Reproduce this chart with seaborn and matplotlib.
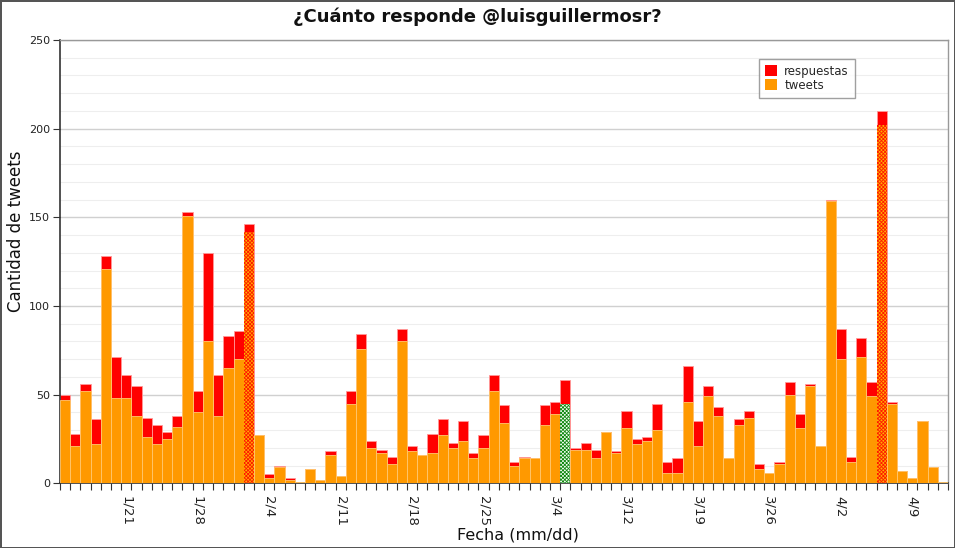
import matplotlib
matplotlib.use("Agg")
import matplotlib.pyplot as plt
import seaborn as sns
import pandas as pd
import numpy as np
from matplotlib.patches import Patch

# ---------------- data ----------------
fechas = (
    ["1/15", "1/16", "1/17", "1/18", "1/19", "1/20", "1/21", "1/22", "1/23", "1/24",
     "1/25", "1/26", "1/27", "1/28", "1/29", "1/30", "1/31",
     "2/1", "2/2", "2/3", "2/4", "2/5", "2/6", "2/7", "2/8", "2/9", "2/10",
     "2/11", "2/12", "2/13", "2/14", "2/15", "2/16", "2/17", "2/18", "2/19", "2/20",
     "2/21", "2/22", "2/23", "2/24", "2/25", "2/26", "2/27", "2/28",
     "3/1", "3/2", "3/3", "3/4", "3/5", "3/7", "3/8", "3/9", "3/10", "3/11",
     "3/12", "3/13", "3/14", "3/15", "3/16", "3/17", "3/18", "3/19", "3/20", "3/21",
     "3/22", "3/23", "3/24", "3/25", "3/26", "3/27", "3/28", "3/29", "3/30", "3/31",
     "4/1", "4/2", "4/3", "4/4", "4/5", "4/6", "4/7", "4/8", "4/9", "4/10",
     "4/11", "4/12"]
)
tweets = [47, 21, 52, 22, 121, 48, 48, 38, 26, 22,
          25, 32, 151, 40, 80, 38, 65, 70, 142, 27,
          3, 9, 2, 1, 8, 2, 16, 4, 45, 76,
          20, 17, 11, 80, 18, 16, 17, 27, 20, 24,
          14, 20, 52, 34, 10, 14, 14, 33, 39, 45,
          19, 19, 14, 29, 17, 31, 22, 24, 30, 6,
          6, 46, 21, 49, 38, 14, 33, 37, 8, 6,
          11, 50, 31, 55, 21, 159, 70, 12, 71, 49,
          202, 45, 7, 3, 35, 9, 1]
respuestas = [3, 7, 4, 14, 7, 23, 13, 17, 11, 11,
              4, 6, 2, 12, 50, 23, 18, 16, 4, 0,
              2, 1, 1, 0, 0, 0, 2, 0, 7, 8,
              4, 2, 4, 7, 3, 0, 11, 9, 3, 11,
              3, 7, 9, 10, 2, 1, 0, 11, 7, 13,
              1, 4, 5, 0, 1, 10, 3, 2, 15, 6,
              8, 20, 14, 6, 5, 0, 3, 4, 3, 0,
              1, 7, 8, 1, 0, 1, 17, 3, 11, 8,
              8, 1, 0, 0, 0, 0, 0]
tick_labels = ["1/21", "1/28", "2/4", "2/11", "2/18", "2/25", "3/4",
               "3/12", "3/19", "3/26", "4/2", "4/9"]
destacados_rojo = ["2/2", "4/6"]
destacados_verde = ["3/5"]

# ---------------- style ----------------
sns.set_theme(style="white")
plt.rcParams["font.family"] = ["DejaVu Sans"]
plt.rcParams["hatch.linewidth"] = 0.6

C_TW = "#ff9900"
C_RE = "#ff0000"

df = pd.DataFrame({"fecha": fechas, "tweets": tweets, "respuestas": respuestas})
df["total"] = df["tweets"] + df["respuestas"]

fig = plt.figure(figsize=(9.55, 5.48), dpi=100, facecolor="white",
                 edgecolor="#555555", linewidth=2)
ax = fig.add_axes([60 / 955, 1 - 483.3 / 548, 888 / 955, 443.3 / 548])

sns.barplot(data=df, x="fecha", y="total", color=C_RE, saturation=1, width=1,
            edgecolor="#ff9999", linewidth=0.6, ax=ax, zorder=2)
sns.barplot(data=df, x="fecha", y="tweets", color=C_TW, saturation=1, width=1,
            edgecolor="#ffc870", linewidth=0.6, ax=ax, zorder=3)

n = len(fechas)
orange_patches = ax.patches[n:2 * n]
for i, f in enumerate(fechas):
    p = orange_patches[i]
    if f in destacados_rojo:
        p.set_facecolor("#ffb000")
        p.set_hatch("xxxxxxxxx")
        p.set_edgecolor("#ff1a00")
        p.set_linewidth(0)
    elif f in destacados_verde:
        p.set_facecolor("#f4fff4")
        p.set_hatch("xxxxxxxxx")
        p.set_edgecolor("#118811")
        p.set_linewidth(0)

ax.set_xlim(-0.5, n - 0.5)
ax.set_ylim(0, 250)

# grid
ax.set_yticks(np.arange(0, 251, 50))
ax.set_yticks(np.arange(0, 251, 10), minor=True)
ax.grid(axis="y", which="major", color="#d0d0d0", linewidth=1, zorder=0)
ax.grid(axis="y", which="minor", color="#eeeeee", linewidth=0.8, zorder=0)
ax.grid(axis="x", visible=False)
ax.set_axisbelow(True)

# x ticks
pos = [fechas.index(t) for t in tick_labels]
ax.set_xticks(pos)
ax.set_xticklabels(tick_labels, rotation=-90, fontsize=9.5, color="#222222")
ax.set_xticks(np.arange(-0.5, n, 1), minor=True)
ax.tick_params(axis="x", which="major", length=0, pad=9)
ax.tick_params(axis="x", which="minor", length=5, width=0.8, color="#333333",
               bottom=True, direction="out")
ax.tick_params(axis="y", which="major", length=5, width=0.8, color="#333333",
               left=True, labelsize=8, labelcolor="#222222", pad=2)
ax.tick_params(axis="y", which="minor", length=0)

for s in ["left", "bottom"]:
    ax.spines[s].set_color("#333333")
    ax.spines[s].set_linewidth(1.2)
for s in ["top", "right"]:
    ax.spines[s].set_color("#999999")
    ax.spines[s].set_linewidth(1)

ax.set_xlabel("")
ax.set_ylabel("")

fig.text(0.5, 1 - 17 / 548, "¿Cuánto responde @luisguillermosr?",
         ha="center", va="center", fontsize=13, fontweight="bold", color="#111111")
fig.text(16 / 955, 1 - 231 / 548, "Cantidad de tweets", rotation=90,
         ha="center", va="center", fontsize=12, color="#111111")
fig.text(518 / 955, 1 - 535 / 548, "Fecha (mm/dd)",
         ha="center", va="center", fontsize=11.5, color="#111111")

handles = [Patch(facecolor=C_RE, edgecolor="none", label="respuestas"),
           Patch(facecolor=C_TW, edgecolor="none", label="tweets")]
leg = ax.legend(handles=handles, loc="upper right", bbox_to_anchor=(0.895, 0.958),
                frameon=True, fancybox=False, fontsize=8.5, handlelength=1.0,
                handleheight=1.0, handletextpad=0.6, labelspacing=0.1,
                borderpad=0.5, borderaxespad=0)
leg.get_frame().set_edgecolor("#888888")
leg.get_frame().set_linewidth(1)

fig.savefig("out.png", dpi=100, facecolor="white", edgecolor=fig.get_edgecolor())
